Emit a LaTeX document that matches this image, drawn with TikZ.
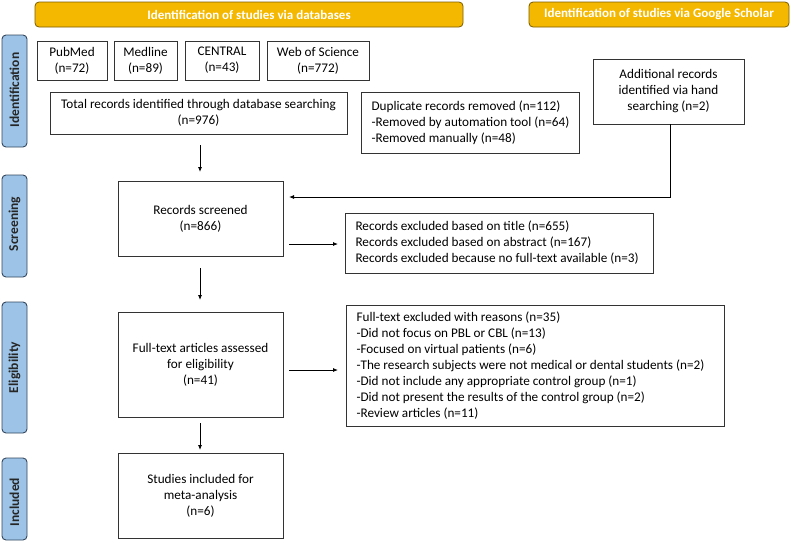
\documentclass[tikz,border=0pt]{standalone}
\usepackage{fontspec}
\setmainfont{Carlito}
\usetikzlibrary{arrows.meta}
\definecolor{hdr}{HTML}{F5B800}
\definecolor{hdrb}{HTML}{7A5C00}
\definecolor{side}{HTML}{9DC3E6}
\definecolor{sideb}{HTML}{34475E}
\begin{document}
\begin{tikzpicture}[x=1pt,y=-1pt,
  box/.style={draw=black!80,line width=0.8pt,fill=white},
  hdrbox/.style={draw=hdrb,fill=hdr,rounded corners=4pt,line width=0.8pt},
  sidebox/.style={draw=sideb,fill=side,rounded corners=4pt,line width=0.9pt},
  hdrtxt/.style={font=\bfseries\fontsize{13}{15}\selectfont,text=white},
  sidetxt/.style={rotate=90,font=\bfseries\fontsize{13.5}{15}\selectfont,text=black!85},
  txt/.style={font=\fontsize{13.2}{16}\selectfont,align=center},
  ltxt/.style={font=\fontsize{13.2}{16}\selectfont,align=left,anchor=west},
  arr/.style={-{Latex[length=5pt,width=4pt]},line width=0.8pt}]
\useasboundingbox (0,0) rectangle (791,542);
% headers
\draw[hdrbox] (35,2) rectangle (463,27);
\node[hdrtxt] (h1) at (249,14.5) {Identification of studies via databases};
\draw[hdrbox] (529,2) rectangle (789,27);
\node[hdrtxt] (h2) at (659,14.5) {Identification of studies via Google Scholar};
% side labels
\draw[sidebox] (2,35) rectangle (27,147);
\node[sidetxt] (s1) at (14.5,90) {Identification};
\draw[sidebox] (2,175) rectangle (27,277);
\node[sidetxt] (s2) at (14.5,224) {Screening};
\draw[sidebox] (2,302) rectangle (27,433);
\node[sidetxt] (s3) at (14.5,367.5) {Eligibility};
\draw[sidebox] (2,458) rectangle (27,540);
\node[sidetxt] (s4) at (14.5,502) {Included};
% database boxes
\draw[box] (37,41) rectangle (107,80);
\node[txt] (pub) at (72,60.5) {PubMed\\(n=72)};
\draw[box] (114,41) rectangle (177,80);
\node[txt] (med) at (145.5,60.5) {Medline\\(n=89)};
\draw[box] (185,41) rectangle (259,80);
\node[txt] (cen) at (222,60.5) {CENTRAL\\(n=43)};
\draw[box] (267,41) rectangle (369,80);
\node[txt] (wos) at (318,60.5) {Web of Science\\(n=772)};
% total
\draw[box] (50,92) rectangle (347,134);
\node[txt] (tot) at (198.5,113) {Total records identified through database searching\\(n=976)};
% duplicates
\draw[box] (361,92) rectangle (579,153);
\node[ltxt] (dup) at (368,122.5) {Duplicate records removed (n=112)\\-Removed by automation tool (n=64)\\-Removed manually (n=48)};
% additional
\draw[box] (593,59) rectangle (744,124);
\node[txt] (add) at (668.5,91.5) {Additional records\\identified via hand\\searching (n=2)};
% screened
\draw[box] (118,181) rectangle (283,256);
\node[txt] (scr) at (200.5,218.5) {Records screened\\(n=866)};
\draw[box] (345,213) rectangle (653,273);
\node[ltxt] (exc1) at (352,243) {Records excluded based on title (n=655)\\Records excluded based on abstract (n=167)\\Records excluded because no full-text available (n=3)};
% eligibility
\draw[box] (118,312) rectangle (283,417);
\node[txt] (eli) at (200.5,364.5) {Full-text articles assessed\\for eligibility\\(n=41)};
\draw[box] (346,305) rectangle (724,426);
\node[ltxt] (exc2) at (353,365.5) {Full-text excluded with reasons (n=35)\\-Did not focus on PBL or CBL (n=13)\\-Focused on virtual patients (n=6)\\-The research subjects were not medical or dental students (n=2)\\-Did not include any appropriate control group (n=1)\\-Did not present the results of the control group (n=2)\\-Review articles (n=11)};
% included
\draw[box] (118,453) rectangle (283,538);
\node[txt] (inc) at (200.5,495.5) {Studies included for\\meta-analysis\\(n=6)};
% arrows
\coordinate (a1s) at (200,145); \coordinate (a1e) at (200,172);
\draw[arr] (a1s) -- (a1e);
\coordinate (b1) at (670,124); \coordinate (b2) at (670,197); \coordinate (b3) at (289,197);
\draw[arr] (b1) -- (b2) -- (b3);
\coordinate (c1) at (289,244); \coordinate (c2) at (338,244);
\draw[arr] (c1) -- (c2);
\coordinate (d1) at (200,268); \coordinate (d2) at (200,300);
\draw[arr] (d1) -- (d2);
\coordinate (e1) at (289,370); \coordinate (e2) at (338,370);
\draw[arr] (e1) -- (e2);
\coordinate (f1) at (200,423); \coordinate (f2) at (200,450);
\draw[arr] (f1) -- (f2);
\end{tikzpicture}
\end{document}
